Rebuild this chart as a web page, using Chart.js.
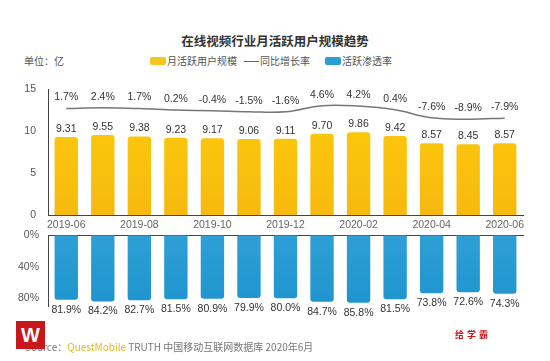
<!DOCTYPE html>
<html>
<head>
<meta charset="utf-8">
<script src="https://cdn.jsdelivr.net/npm/chart.js@4"></script>
<style>
  body { margin: 0; background: #fff; width: 550px; height: 361px; position: relative; overflow: hidden;
         font-family: "Liberation Sans", "Noto Sans CJK SC", sans-serif; }
  .abs { position: absolute; white-space: nowrap; }
  #title { left: 0; width: 550px; top: 31px; text-align: center; font-size: 12.5px; font-weight: bold; color: #333;
           font-family: "Noto Sans CJK SC", sans-serif; }
  .lg { font-size: 10px; color: #555; font-family: "Noto Sans CJK SC", sans-serif; }
  #top { left: 0; top: 71px; }
  #bot { left: 0; top: 220px; }
</style>
</head>
<body>
<div id="title" class="abs">在线视频行业月活跃用户规模趋势</div>
<div class="abs lg" style="left:24px;top:53px;">单位：亿</div>
<div class="abs" style="left:150px;top:57px;width:16px;height:8px;background:#F7C51E;border-radius:2px;"></div>
<div class="abs lg" style="left:167px;top:53px;">月活跃用户规模</div>
<div class="abs" style="left:244px;top:61px;width:15px;height:1px;background:#666;"></div>
<div class="abs lg" style="left:260px;top:53px;">同比增长率</div>
<div class="abs" style="left:325px;top:57px;width:16px;height:8px;background:#2A9DD3;border-radius:2px;"></div>
<div class="abs lg" style="left:342px;top:53px;">活跃渗透率</div>

<canvas id="top" class="abs" width="550" height="164"></canvas>
<canvas id="bot" class="abs" width="550" height="108"></canvas>

<div class="abs lg" style="left:25px;top:339px;font-size:10px;color:#777;">Source：<span style="color:#E5B91E;">QuestMobile</span> TRUTH 中国移动互联网数据库 2020年6月</div>
<div class="abs" style="left:16px;top:321px;width:29px;height:28px;background:#C8161D;color:#fff;font:bold 20px 'Liberation Sans';text-align:center;line-height:28px;">W</div>
<div class="abs" style="left:455px;top:328px;font-size:9px;font-weight:bold;color:#C8161D;letter-spacing:3px;font-family:'Noto Sans CJK SC';">给学霸</div>

<script>
const months = ['2019-06','2019-07','2019-08','2019-09','2019-10','2019-11','2019-12',
                '2020-01','2020-02','2020-03','2020-04','2020-05','2020-06'];
const mau = [9.31, 9.55, 9.38, 9.23, 9.17, 9.06, 9.11, 9.70, 9.86, 9.42, 8.57, 8.45, 8.57];
const growth = [1.7, 2.4, 1.7, 0.2, -0.4, -1.5, -1.6, 4.6, 4.2, 0.4, -7.6, -8.9, -7.9];
const penetration = [81.9, 84.2, 82.7, 81.5, 80.9, 79.9, 80.0, 84.7, 85.8, 81.5, 73.8, 72.6, 74.3];
const yTicks = [0, 5, 10, 15];
const pTicks = [0, 40, 80];

const labelFont = '10.5px "Liberation Sans", sans-serif';

// draws value labels next to bars / points
const valueLabels = {
  id: 'valueLabels',
  afterDatasetsDraw(chart) {
    const ctx = chart.ctx;
    ctx.save();
    ctx.font = labelFont;
    ctx.fillStyle = '#333';
    ctx.textAlign = 'center';
    ctx.textBaseline = 'middle';
    chart.data.datasets.forEach((ds, i) => {
      if (!ds.labelFmt) return;
      chart.getDatasetMeta(i).data.forEach((el, j) => {
        ctx.fillText(ds.labelFmt(ds.data[j]), el.x, el.y + ds.labelOffset);
      });
    });
    ctx.restore();
  }
};

function vGrad(ctx, area, c1, c2) {
  if (!area) return c1;
  const g = ctx.createLinearGradient(0, area.top, 0, area.bottom);
  g.addColorStop(0, c1);
  g.addColorStop(1, c2);
  return g;
}

new Chart(document.getElementById('top'), {
  type: 'bar',
  data: {
    labels: months,
    datasets: [{
      type: 'line',
      data: growth,
      yAxisID: 'y2',
      borderColor: '#777',
      borderWidth: 1.5,
      tension: 0.4,
      pointRadius: 0,
      labelFmt: v => v.toFixed(1) + '%',
      labelOffset: -11
    }, {
      data: mau,
      backgroundColor: c => vGrad(c.chart.ctx, c.chart.chartArea, '#FFCD0A', '#F6B90F'),
      borderRadius: 3,
      borderSkipped: 'bottom',
      barPercentage: 0.64,
      categoryPercentage: 1,
      labelFmt: v => v.toFixed(2),
      labelOffset: -8
    }]
  },
  plugins: [valueLabels],
  options: {
    responsive: false,
    animation: false,
    layout: { padding: { top: 0, right: 27, left: 0, bottom: 0 } },
    plugins: { legend: { display: false }, tooltip: { enabled: false } },
    scales: {
      x: {
        grid: { display: false, drawTicks: false },
        border: { color: '#444', width: 1 },
        ticks: {
          autoSkip: false, maxRotation: 0, color: '#666', font: { size: 10.5, family: 'Liberation Sans' }, padding: 4,
          callback: (v, i) => i % 2 === 0 ? months[i] : ''
        },
        afterFit: s => { s.height = 20; }
      },
      y: {
        min: 0, max: 15,
        afterBuildTicks: s => { s.ticks = yTicks.map(v => ({ value: v })); },
        grid: { display: false, drawTicks: false },
        border: { color: '#444', width: 1 },
        ticks: { color: '#555', font: { size: 10.5, family: 'Liberation Sans' }, padding: 12 },
        afterFit: s => { s.width = 48; }
      },
      y2: { display: false, min: -105, max: 21 }
    }
  }
});

new Chart(document.getElementById('bot'), {
  type: 'bar',
  data: {
    labels: months,
    datasets: [{
      data: penetration,
      backgroundColor: c => vGrad(c.chart.ctx, c.chart.chartArea, '#2F9FD6', '#1E94CE'),
      borderRadius: 3,
      borderSkipped: 'start',
      barPercentage: 0.64,
      categoryPercentage: 1,
      labelFmt: v => v.toFixed(1) + '%',
      labelOffset: 10
    }]
  },
  plugins: [valueLabels],
  options: {
    responsive: false,
    animation: false,
    layout: { padding: { top: 0, right: 27, left: 0, bottom: 22 } },
    plugins: { legend: { display: false }, tooltip: { enabled: false } },
    scales: {
      x: {
        position: 'top',
        grid: { display: false, drawTicks: false },
        border: { color: '#444', width: 1 },
        ticks: { display: false },
        afterFit: s => { s.height = 0; }
      },
      y: {
        reverse: true,
        min: 0, max: 90,
        afterBuildTicks: s => { s.ticks = pTicks.map(v => ({ value: v })); },
        grid: { display: false, drawTicks: false },
        border: { color: '#444', width: 1 },
        ticks: { color: '#555', font: { size: 10.5, family: 'Liberation Sans' }, padding: 9, callback: v => v + '%' },
        afterFit: s => { s.width = 48; }
      }
    }
  }
});
</script>
</body>
</html>
